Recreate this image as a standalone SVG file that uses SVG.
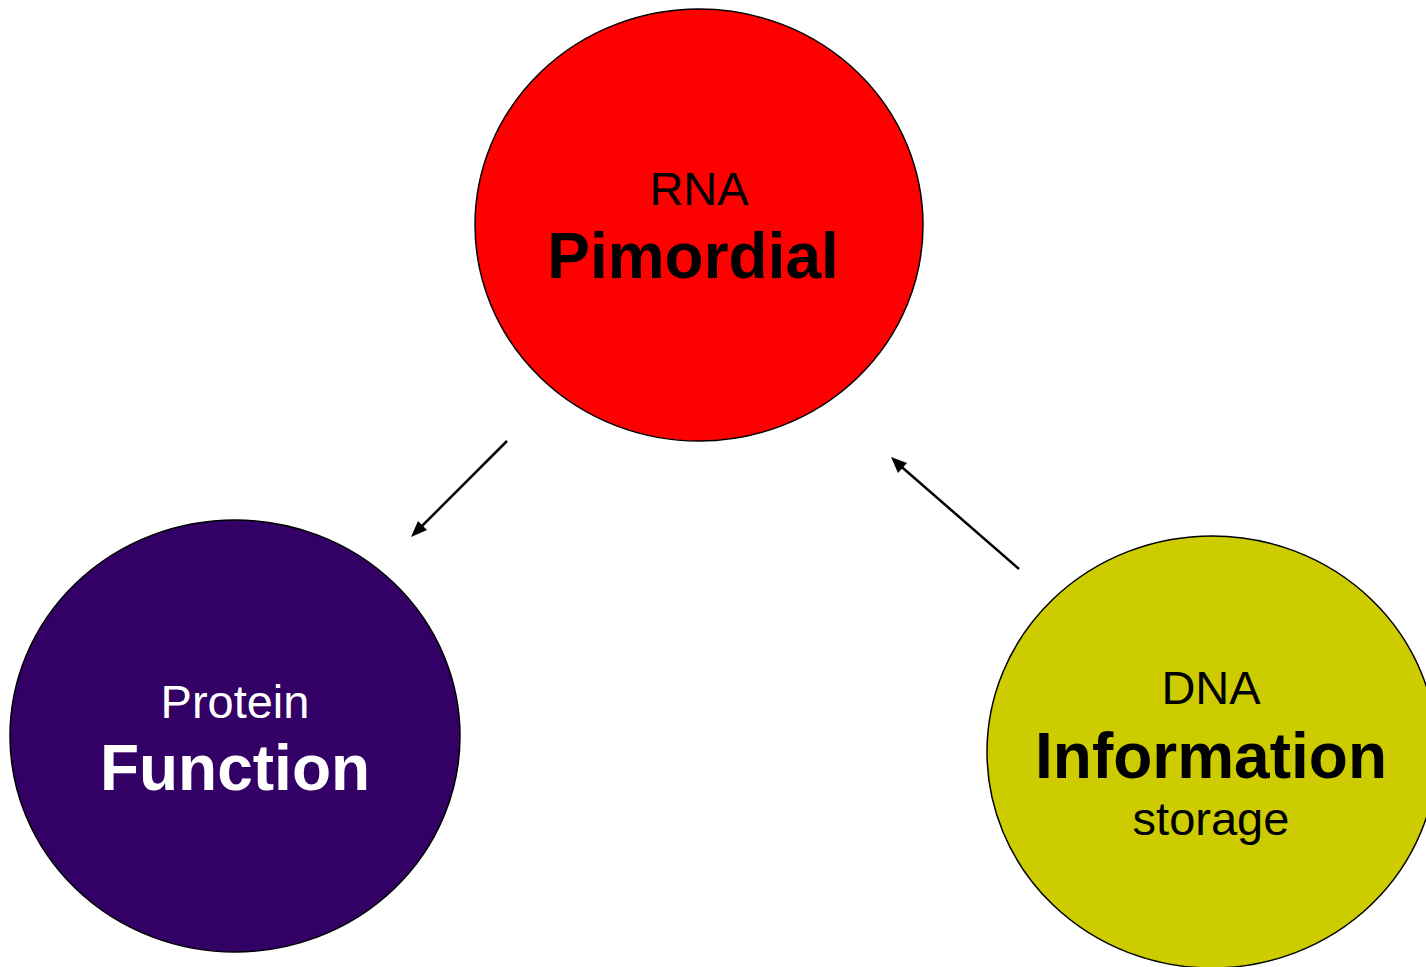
<svg xmlns="http://www.w3.org/2000/svg" width="1426" height="967" viewBox="0 0 1426 967">
<style>
.n{stroke:#000;stroke-width:1.5}
.t{font-family:"Liberation Sans",Arial,sans-serif;text-anchor:middle}
.s{font-size:47px}
.b{font-size:64px;font-weight:bold}
.c{stroke:#000;stroke-width:2.5;fill:none}
.h{fill:#000}
</style>
<rect width="1426" height="967" fill="#fff"/>
<g id="connectors">
<line class="c" x1="507" y1="441" x2="416" y2="532"/>
<path class="h" d="M411,537 L418,521 L427,530 z"/>
<line class="c" x1="1019" y1="569" x2="896" y2="462"/>
<path class="h" d="M891,457 L907,463 L898,473 z"/>
</g>
<g id="rna">
<ellipse class="n" cx="699" cy="225" rx="224" ry="216" fill="#ff0000"/>
<text class="t s" x="699" y="205">RNA</text>
<text class="t b" x="693" y="278">Pimordial</text>
</g>
<g id="protein">
<ellipse class="n" cx="235" cy="736" rx="225" ry="216" fill="#330066"/>
<text class="t s" x="235" y="718" fill="#fff">Protein</text>
<text class="t b" x="235" y="790" fill="#fff">Function</text>
</g>
<g id="dna">
<ellipse class="n" cx="1212" cy="752" rx="225" ry="216" fill="#cccc00"/>
<text class="t s" x="1211" y="704">DNA</text>
<text class="t b" x="1211" y="778">Information</text>
<text class="t s" x="1211" y="835">storage</text>
</g>
</svg>
